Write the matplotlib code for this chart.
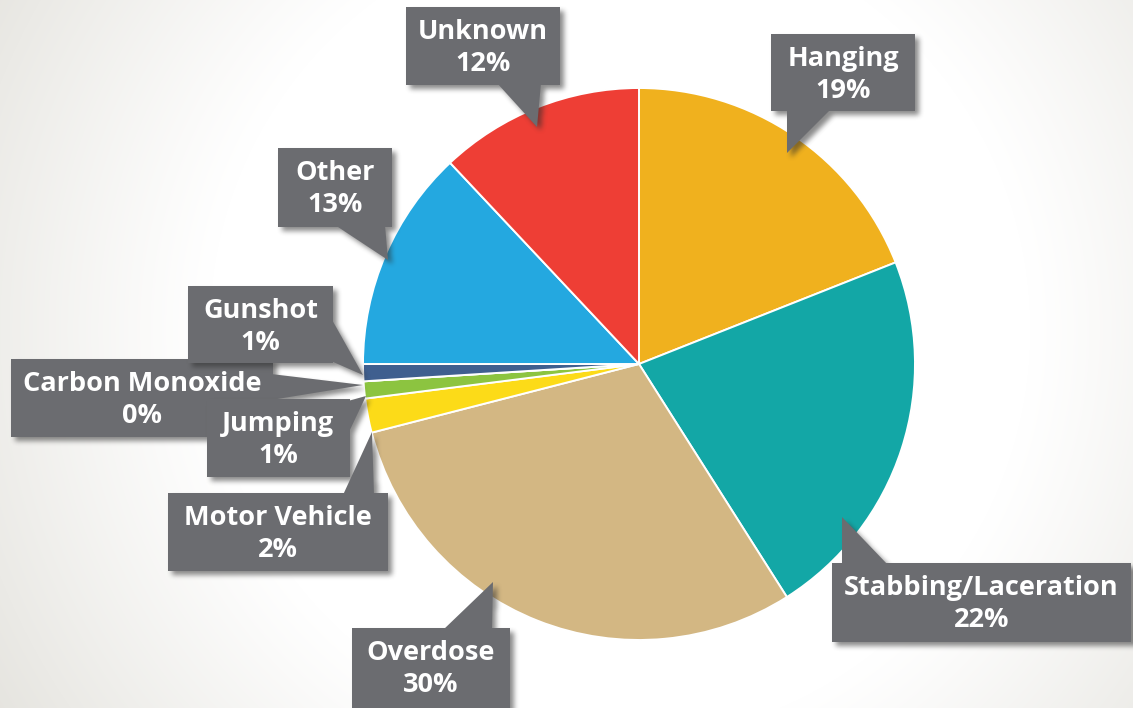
import numpy as np
import matplotlib
matplotlib.use("Agg")
import matplotlib.pyplot as plt
from matplotlib.path import Path
from matplotlib.patches import Polygon

# Share of cases by method (clockwise from 12 o'clock)
categories = ["Hanging", "Stabbing/Laceration", "Overdose", "Motor Vehicle",
              "Jumping", "Carbon Monoxide", "Gunshot", "Other", "Unknown"]
percentages = [19, 22, 30, 2, 1, 0, 1, 13, 12]
slice_colors = ["#f0b11e", "#13a7a6", "#d3b783", "#fcdb18",
                "#8cc440", "#7a7b7f", "#3f5f8f", "#24a8e0", "#ee3e35"]

W, H = 1133, 708
CENTER = (639, 364)
RADIUS = 276
BOX_COLOR = "#6b6c70"
FONT = "Open Sans"
FONT_SIZE = 19.5

# Callout geometry in pixel space (x right, y down): box (x0, y0, x1, y1) and tail triangle
callouts = {
    "Unknown":             ((406, 7, 560, 85),    [(497, 83), (541, 83), (537, 127)]),
    "Hanging":             ((771, 34, 915, 111),  [(787, 109), (831, 109), (787, 153)]),
    "Other":               ((278, 148, 392, 227), [(335, 225), (385, 225), (388, 260)]),
    "Carbon Monoxide":     ((11, 359, 273, 437),  [(271, 374), (271, 400), (363, 385)]),
    "Gunshot":             ((188, 286, 333, 363), [(331, 318), (331, 361), (363, 375)]),
    "Jumping":             ((207, 399, 350, 477), [(348, 401), (348, 434), (366, 396)]),
    "Motor Vehicle":       ((168, 493, 388, 571), [(343, 495), (374, 495), (372, 432)]),
    "Stabbing/Laceration": ((832, 563, 1131, 642), [(842, 565), (888, 565), (842, 517)]),
    "Overdose":            ((352, 628, 510, 708), [(443, 630), (492, 630), (493, 582)]),
}
draw_order = ["Unknown", "Hanging", "Other", "Carbon Monoxide", "Gunshot",
              "Jumping", "Motor Vehicle", "Stabbing/Laceration", "Overdose"]

fig = plt.figure(figsize=(W / 100, H / 100), dpi=100)
ax = fig.add_axes([0, 0, 1, 1])

# Soft radial backdrop
yy, xx = np.mgrid[0:H, 0:W] + 0.5
r = np.hypot(xx - 620, yy - 330)
t = np.clip((r - 410) / 320, 0, 1) ** 1.1
edge = np.array([0.900, 0.895, 0.875])
bg = (1 - t)[..., None] * np.ones(3) + t[..., None] * edge
ax.imshow(bg, extent=(0, W, H, 0), origin="upper", zorder=0, interpolation="bilinear")

# Pie: with the y axis pointing down, startangle=-90 is 12 o'clock and CCW in data runs clockwise on screen
ax.pie(percentages, colors=slice_colors, startangle=-90, counterclock=True,
       center=CENTER, radius=RADIUS,
       wedgeprops=dict(edgecolor="white", linewidth=1.4, zorder=1))


def blur1d(a, rad, axis):
    a = np.moveaxis(a, axis, -1)
    pad = [(0, 0)] * (a.ndim - 1) + [(rad + 1, rad)]
    p = np.pad(a, pad, mode="edge")
    c = np.cumsum(p, axis=-1)
    out = (c[..., 2 * rad + 1:] - c[..., :-(2 * rad + 1)]) / (2 * rad + 1)
    return np.moveaxis(out, -1, axis)


def soft(mask, rad=2, passes=3):
    m = mask.astype(float)
    for _ in range(passes):
        m = blur1d(m, rad, 0)
        m = blur1d(m, rad, 1)
    return m


pts = np.column_stack([xx.ravel(), yy.ravel()])
dx, dy = 4, 4
z = 3
for name in draw_order:
    (x0, y0, x1, y1), tail = callouts[name]
    box = [(x0, y0), (x1, y0), (x1, y1), (x0, y1)]
    # drop shadow
    m = Path(box).contains_points(pts - [dx, dy]) | Path(tail).contains_points(pts - [dx, dy])
    m = soft(m.reshape(H, W))
    sh = np.zeros((H, W, 4))
    sh[..., :3] = 0.18
    sh[..., 3] = m * 0.55
    ax.imshow(sh, extent=(0, W, H, 0), origin="upper", zorder=z, interpolation="bilinear")
    ax.add_patch(Polygon(box, closed=True, facecolor=BOX_COLOR, edgecolor="none", zorder=z + 1))
    ax.add_patch(Polygon(tail, closed=True, facecolor=BOX_COLOR, edgecolor="none", zorder=z + 1))
    i = categories.index(name)
    cx = (x0 + x1) / 2
    ax.text(cx, y0 + 32, name, ha="center", va="baseline", color="white",
            fontsize=FONT_SIZE, fontweight="bold", family=FONT, zorder=z + 2)
    ax.text(cx, y0 + 64, f"{percentages[i]}%", ha="center", va="baseline", color="white",
            fontsize=FONT_SIZE, fontweight="bold", family=FONT, zorder=z + 2)
    z += 3

ax.set_xlim(0, W)
ax.set_ylim(H, 0)
ax.set_aspect("equal")
ax.axis("off")
fig.savefig("out.png", dpi=100)
